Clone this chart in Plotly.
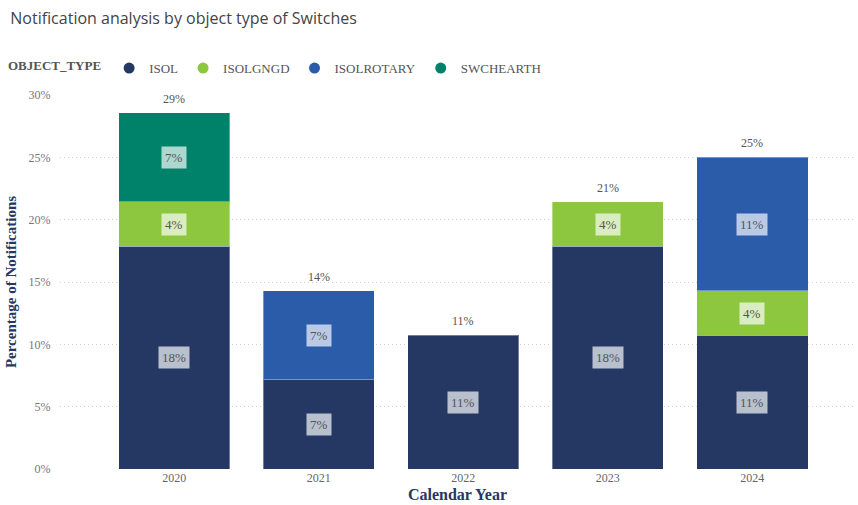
import plotly.graph_objects as go

years = ["2020", "2021", "2022", "2023", "2024"]
series_names = ["ISOL", "ISOLGNGD", "ISOLROTARY", "SWCHEARTH"]
isol = [17.86, 7.14, 10.71, 17.86, 10.71]
isolgngd = [3.57, 0, 0, 3.57, 3.57]
isolrotary = [0, 7.14, 0, 0, 10.71]
swchearth = [7.14, 0, 0, 0, 0]
colors = ["#253864", "#8DC63F", "#2A5CAA", "#00826A"]

values = [isol, isolgngd, isolrotary, swchearth]
serif = "Liberation Serif"

fig = go.Figure()
base = [0.0] * len(years)
for name, vals, col in zip(series_names, values, colors):
    fig.add_trace(go.Bar(
        x=years, y=[v if v > 0 else None for v in vals], name=name,
        marker=dict(color=col, line=dict(color="rgba(255,255,255,0.35)", width=1)),
        width=0.77, showlegend=False,
    ))
    for i, v in enumerate(vals):
        if v > 0:
            fig.add_annotation(
                x=i, y=base[i] + v / 2, xref="x", yref="y",
                text=f"{round(v)}%", showarrow=False,
                font=dict(family=serif, size=13, color="#555555"),
                bgcolor="rgba(255,255,255,0.68)", borderpad=3,
            )
            base[i] += v
    fig.add_trace(go.Scatter(
        x=[years[0]], y=[None], mode="markers", name=name,
        marker=dict(color=col, size=11, symbol="circle"),
        hoverinfo="skip",
    ))

for i, t in enumerate(base):
    fig.add_annotation(
        x=i, y=t, xref="x", yref="y", text=f"{round(t)}%",
        showarrow=False, yanchor="bottom", yshift=5,
        font=dict(family=serif, size=12, color="#555555"),
    )

fig.update_layout(
    width=858, height=505,
    margin=dict(l=60, r=3, t=95, b=36, autoexpand=False),
    barmode="stack",
    plot_bgcolor="white", paper_bgcolor="white",
    font=dict(family=serif),
    title=dict(
        text="Notification analysis by object type of Switches",
        x=0.012, xref="container", xanchor="left",
        y=0.963, yref="container", yanchor="middle",
        font=dict(family="Open Sans", size=16, color="#444444"),
    ),
    legend=dict(
        orientation="h", traceorder="normal",
        x=-0.068, xanchor="left",
        y=1.072, yanchor="middle",
        title=dict(text="<b>OBJECT_TYPE</b>", font=dict(family=serif, size=13, color="#555555")),
        font=dict(family=serif, size=13, color="#555555"),
        itemwidth=30,
    ),
    xaxis=dict(
        type="category", range=[-0.79, 4.71],
        tickfont=dict(family=serif, size=12, color="#666666"),
        title=dict(text="<b>Calendar Year</b>", font=dict(family=serif, size=16, color="#253864"), standoff=4),
        showgrid=False, showline=False, ticks="",
    ),
    yaxis=dict(
        range=[0, 30], dtick=5, ticksuffix="%",
        tickfont=dict(family=serif, size=12, color="#777777"),
        title=dict(text="<b>Percentage of Notifications</b>", font=dict(family=serif, size=15, color="#253864"), standoff=8),
        showgrid=True, gridcolor="#d0d0d0", griddash="1px,3px", gridwidth=1,
        zeroline=False, showline=False, ticks="outside", ticklen=6, tickcolor="rgba(0,0,0,0)",
    ),
)

fig.write_html("out.html")
